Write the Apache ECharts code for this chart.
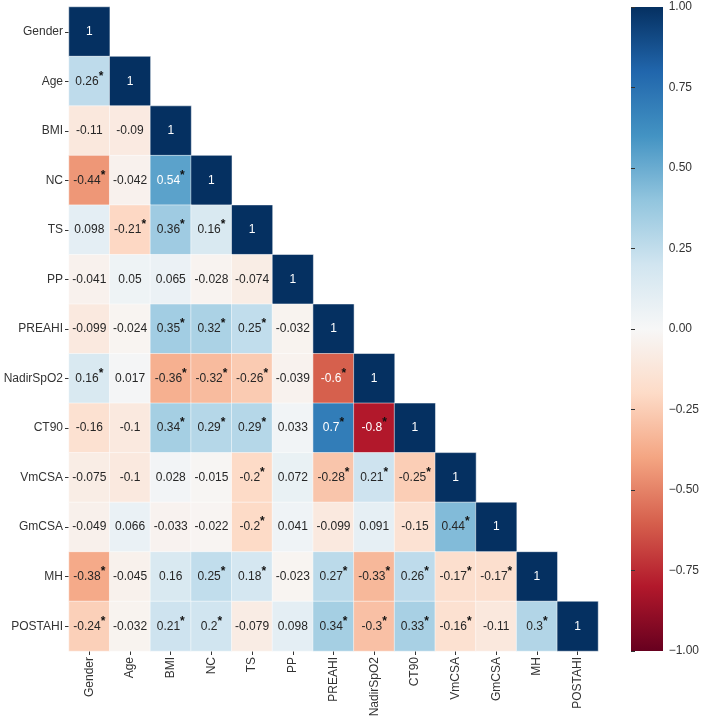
<!DOCTYPE html>
<html>
<head>
<meta charset="utf-8">
<script src="https://cdn.jsdelivr.net/npm/echarts@6/dist/echarts.min.js"></script>
<style>
html,body{margin:0;padding:0;background:#fff;}
#chart{width:702px;height:720px;}
</style>
</head>
<body>
<div id="chart"></div>
<script>
// Variable names (rows top→bottom, columns left→right)
const categories = ['Gender','Age','BMI','NC','TS','PP','PREAHI','NadirSpO2','CT90','VmCSA','GmCSA','MH','POSTAHI'];

// Lower-triangular correlation rows (including diagonal)
const rowGender    = [1];
const rowAge       = [0.26, 1];
const rowBMI       = [-0.11, -0.09, 1];
const rowNC        = [-0.44, -0.042, 0.54, 1];
const rowTS        = [0.098, -0.21, 0.36, 0.16, 1];
const rowPP        = [-0.041, 0.05, 0.065, -0.028, -0.074, 1];
const rowPREAHI    = [-0.099, -0.024, 0.35, 0.32, 0.25, -0.032, 1];
const rowNadirSpO2 = [0.16, 0.017, -0.36, -0.32, -0.26, -0.039, -0.6, 1];
const rowCT90      = [-0.16, -0.1, 0.34, 0.29, 0.29, 0.033, 0.7, -0.8, 1];
const rowVmCSA     = [-0.075, -0.1, 0.028, -0.015, -0.2, 0.072, -0.28, 0.21, -0.25, 1];
const rowGmCSA     = [-0.049, 0.066, -0.033, -0.022, -0.2, 0.041, -0.099, 0.091, -0.15, 0.44, 1];
const rowMH        = [-0.38, -0.045, 0.16, 0.25, 0.18, -0.023, 0.27, -0.33, 0.26, -0.17, -0.17, 1];
const rowPOSTAHI   = [-0.24, -0.032, 0.21, 0.2, -0.079, 0.098, 0.34, -0.3, 0.33, -0.16, -0.11, 0.3, 1];

// Significance flags (1 = marked with *)
const sigGender    = [0];
const sigAge       = [1, 0];
const sigBMI       = [0, 0, 0];
const sigNC        = [1, 0, 1, 0];
const sigTS        = [0, 1, 1, 1, 0];
const sigPP        = [0, 0, 0, 0, 0, 0];
const sigPREAHI    = [0, 0, 1, 1, 1, 0, 0];
const sigNadirSpO2 = [1, 0, 1, 1, 1, 0, 1, 0];
const sigCT90      = [0, 0, 1, 1, 1, 0, 1, 1, 0];
const sigVmCSA     = [0, 0, 0, 0, 1, 0, 1, 1, 1, 0];
const sigGmCSA     = [0, 0, 0, 0, 1, 0, 0, 0, 0, 1, 0];
const sigMH        = [1, 0, 0, 1, 1, 0, 1, 1, 1, 1, 1, 0];
const sigPOSTAHI   = [1, 0, 1, 1, 0, 0, 1, 1, 1, 1, 0, 1, 0];

// Colorbar range and tick step
const colorbarMin = -1;
const colorbarMax = 1;
const colorbarStep = 0.25;

const rows = [rowGender,rowAge,rowBMI,rowNC,rowTS,rowPP,rowPREAHI,rowNadirSpO2,rowCT90,rowVmCSA,rowGmCSA,rowMH,rowPOSTAHI];
const sigs = [sigGender,sigAge,sigBMI,sigNC,sigTS,sigPP,sigPREAHI,sigNadirSpO2,sigCT90,sigVmCSA,sigGmCSA,sigMH,sigPOSTAHI];

// RdBu colormap (from -1 to 1)
const rdbu = ['#67001f','#b2182b','#d6604d','#f4a582','#fddbc7','#f7f7f7','#d1e5f0','#92c5de','#4393c3','#2166ac','#053061'];

const data = [];
rows.forEach((r, i) => {
  r.forEach((v, j) => {
    data.push({value: [j, i, v], sig: sigs[i][j]});
  });
});

const GL = 69, GT = 7, GW = 529, GH = 644;
const CBX = 631, CBW = 32;

const chart = echarts.init(document.getElementById('chart'), null, {renderer: 'canvas'});
const labelFont = '"Liberation Sans", Arial, sans-serif';

chart.setOption({
  animation: false,
  backgroundColor: '#fff',
  textStyle: {fontFamily: labelFont},
  grid: [
    {left: GL, top: GT, width: GW, height: GH},
    {left: CBX, top: GT, width: CBW, height: GH}
  ],
  xAxis: [
    {
      type: 'category', data: categories, gridIndex: 0, position: 'bottom',
      axisLine: {show: false},
      axisTick: {show: true, alignWithLabel: true, length: 4, lineStyle: {color: '#333'}},
      axisLabel: {rotate: 90, interval: 0, color: '#333', fontSize: 12, fontFamily: labelFont, margin: 6},
      splitLine: {show: false}
    },
    {type: 'value', gridIndex: 1, show: false, min: 0, max: 1}
  ],
  yAxis: [
    {
      type: 'category', data: categories, gridIndex: 0, inverse: true,
      axisLine: {show: false},
      axisTick: {show: true, alignWithLabel: true, length: 4, lineStyle: {color: '#333'}},
      axisLabel: {interval: 0, color: '#333', fontSize: 12, fontFamily: labelFont, margin: 6},
      splitLine: {show: false}
    },
    {
      type: 'value', gridIndex: 1, position: 'right', min: colorbarMin, max: colorbarMax, interval: colorbarStep,
      axisLine: {show: false},
      axisTick: {show: true, length: 4, lineStyle: {color: '#333'}},
      axisLabel: {
        color: '#333', fontSize: 12, fontFamily: labelFont, margin: 6,
        formatter: v => (v < 0 ? '\u2212' : '') + Math.abs(v).toFixed(2)
      },
      splitLine: {show: false}
    }
  ],
  visualMap: {
    show: false, type: 'continuous', min: colorbarMin, max: colorbarMax, dimension: 2, seriesIndex: 0,
    inRange: {color: rdbu}
  },
  graphic: [{
    type: 'rect', left: CBX, top: GT, z: 0,
    shape: {width: CBW, height: GH},
    style: {
      fill: {
        type: 'linear', x: 0, y: 0, x2: 0, y2: 1,
        colorStops: rdbu.slice().reverse().map((c, k) => ({offset: k / (rdbu.length - 1), color: c}))
      }
    }
  }],
  series: [{
    type: 'heatmap', xAxisIndex: 0, yAxisIndex: 0,
    data: data,
    itemStyle: {borderColor: '#ffffff', borderWidth: 0.5},
    label: {
      show: true,
      fontFamily: labelFont,
      formatter: p => {
        const v = p.value[2];
        const dark = Math.abs(v) >= 0.5;
        const txt = String(v);
        return '{' + (dark ? 'w' : 'b') + '|' + txt + '}' + (p.data.sig ? '{s|*}' : '');
      },
      rich: {
        w: {color: '#ffffff', fontSize: 12, fontFamily: labelFont},
        b: {color: '#262626', fontSize: 12, fontFamily: labelFont},
        s: {color: '#111', fontSize: 12, fontWeight: 'bold', fontFamily: labelFont, padding: [0, 0, 10, 0]}
      }
    },
    emphasis: {disabled: true}
  }, {
    type: 'line', xAxisIndex: 1, yAxisIndex: 1, data: [], silent: true
  }]
});
</script>
</body>
</html>
